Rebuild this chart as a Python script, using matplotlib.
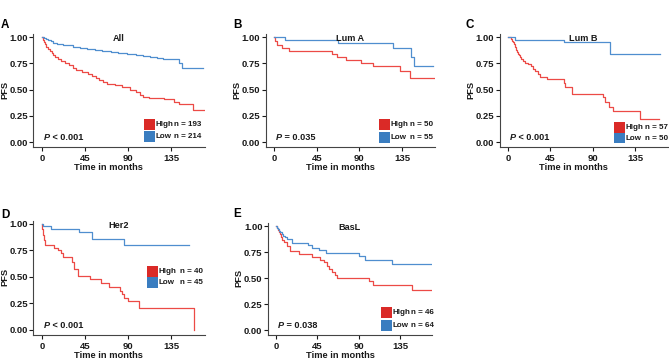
"""Kaplan-Meier PFS curves, high vs low groups, for all samples and PAM50 subtypes."""

import matplotlib

matplotlib.use("Agg")
import matplotlib.pyplot as plt
from matplotlib.patches import Rectangle

W, H = 669, 359

# step curves (months, survival)
A_high_t = [0, 1, 2, 3, 4, 6, 8, 10, 12, 14, 17, 20, 24, 28, 32, 36, 42, 48, 52, 56, 60,
            64, 68, 76, 84, 92, 98, 102, 106, 112, 128, 138, 143, 158, 170]
A_high_s = [1.00, 0.97, 0.95, 0.93, 0.91, 0.89, 0.87, 0.85, 0.83, 0.81, 0.79, 0.77, 0.75,
            0.73, 0.71, 0.69, 0.67, 0.65, 0.63, 0.61, 0.59, 0.57, 0.55, 0.54, 0.52, 0.50,
            0.48, 0.45, 0.43, 0.42, 0.41, 0.38, 0.36, 0.31, 0.31]
A_low_t = [0, 2, 4, 6, 9, 12, 16, 22, 32, 40, 47, 55, 63, 72, 80, 89, 98, 106, 113, 120,
           127, 143, 146, 168]
A_low_s = [1.00, 0.99, 0.98, 0.97, 0.96, 0.945, 0.93, 0.92, 0.91, 0.90, 0.89, 0.88, 0.87,
           0.86, 0.85, 0.84, 0.83, 0.82, 0.81, 0.80, 0.79, 0.75, 0.71, 0.71]

B_high_t = [0, 1, 3, 8, 16, 61, 66, 76, 92, 104, 133, 143, 171]
B_high_s = [1.00, 0.96, 0.92, 0.90, 0.87, 0.84, 0.81, 0.78, 0.75, 0.72, 0.68, 0.61, 0.61]
B_low_t = [0, 12, 67, 125, 144, 148, 168]
B_low_s = [1.00, 0.97, 0.945, 0.895, 0.81, 0.72, 0.72]

C_high_t = [0, 3, 4, 5, 6, 7, 8, 9, 10, 11, 12, 13, 14, 16, 18, 21, 24, 27, 29, 32, 34, 41,
            59, 61, 68, 101, 103, 107, 112, 140, 160]
C_high_s = [1.00, 0.98, 0.965, 0.95, 0.93, 0.91, 0.895, 0.88, 0.86, 0.84, 0.825, 0.81, 0.79,
            0.77, 0.755, 0.74, 0.72, 0.70, 0.68, 0.65, 0.62, 0.60, 0.56, 0.525, 0.46, 0.43,
            0.385, 0.33, 0.30, 0.215, 0.215]
C_low_t = [0, 7, 60, 108, 162]
C_low_s = [1.00, 0.975, 0.95, 0.84, 0.84]

D_high_t = [0, 0.5, 1, 2, 3, 13, 17, 20, 22, 31, 33, 38, 50, 62, 70, 82, 84, 86, 90, 101, 159]
D_high_s = [1.00, 0.95, 0.90, 0.85, 0.80, 0.775, 0.75, 0.725, 0.69, 0.64, 0.58, 0.51, 0.48,
            0.44, 0.41, 0.37, 0.34, 0.30, 0.27, 0.21, 0.0]
D_low_t = [0, 1, 9, 39, 52, 86, 154]
D_low_s = [1.00, 0.977, 0.955, 0.92, 0.86, 0.80, 0.80]

E_high_t = [0, 1, 2, 3, 4, 5, 7, 9, 12, 15, 25, 39, 48, 52, 55, 58, 61, 64, 66, 101, 105,
            148, 169]
E_high_s = [1.00, 0.98, 0.96, 0.94, 0.92, 0.89, 0.87, 0.85, 0.81, 0.76, 0.73, 0.70, 0.675,
            0.65, 0.62, 0.59, 0.56, 0.53, 0.50, 0.47, 0.435, 0.38, 0.38]
E_low_t = [0, 1, 2, 3, 4, 6, 8, 10, 12, 17, 35, 39, 47, 54, 90, 97, 126, 172]
E_low_s = [1.00, 0.985, 0.97, 0.955, 0.94, 0.92, 0.905, 0.89, 0.875, 0.84, 0.815, 0.785,
           0.765, 0.74, 0.715, 0.67, 0.63, 0.63]

letters = ["A", "B", "C", "D", "E"]
titles = ["All", "Lum A", "Lum B", "Her2", "BasL"]
p_ops = ["<", "=", "<", "<", "="]
p_vals = ["0.001", "0.035", "0.001", "0.001", "0.038"]
n_high = [193, 50, 57, 40, 46]
n_low = [214, 55, 50, 45, 64]
curves = [
    (A_high_t, A_high_s, A_low_t, A_low_s),
    (B_high_t, B_high_s, B_low_t, B_low_s),
    (C_high_t, C_high_s, C_low_t, C_low_s),
    (D_high_t, D_high_s, D_low_t, D_low_s),
    (E_high_t, E_high_s, E_low_t, E_low_s),
]
x_ticks = [0, 45, 90, 135]
y_ticks = [0.0, 0.25, 0.5, 0.75, 1.0]
y_ticklabels = ["0.00", "0.25", "0.50", "0.75", "1.00"]

# layout in pixels: axes box (l, t, r, b), legend (square left, high top, low top, n right)
boxes = [(33.4, 33.9, 204.5, 147.3), (265.5, 33.9, 435.2, 147.3), (499.5, 33.9, 668.0, 147.3),
         (33.4, 220.8, 204.5, 335.3), (267.7, 222.9, 432.4, 335.2)]
legends = [(144, 119, 131, 201), (379, 119, 132, 433), (614, 122, 133, 668),
           (147, 266, 277, 203), (381, 307, 320, 434)]
letter_xy = [(1, 28), (233, 28), (466, 28), (1, 218), (233, 217)]
XLIM, YLIM = (-9, 170), (-0.05, 1.03)

RED_LINE, BLUE_LINE = "#EC4A46", "#4F8ECF"
RED_BOX, BLUE_BOX = "#DA2A27", "#3A7DC0"
INK = "#1A1A1A"

plt.rcParams["font.family"] = ["Liberation Sans", "DejaVu Sans"]
plt.rcParams["font.weight"] = "bold"


def fx(px):
    return px / W


def fy(py):
    return 1 - py / H


def draw_panel(fig, i):
    l, t, r, b = boxes[i]
    ax = fig.add_axes([fx(l), fy(b), (r - l) / W, (b - t) / H])
    ht, hs, lt, ls = curves[i]
    ax.step(ht, hs, where="post", color=RED_LINE, lw=0.9)
    ax.step(lt, ls, where="post", color=BLUE_LINE, lw=0.9)
    ax.set_xlim(*XLIM)
    ax.set_ylim(*YLIM)
    ax.set_xticks(x_ticks)
    ax.set_yticks(y_ticks, y_ticklabels)
    for side in ("top", "right"):
        ax.spines[side].set_visible(False)
    for side in ("left", "bottom"):
        ax.spines[side].set_color("#444444")
        ax.spines[side].set_linewidth(0.8)
    ax.tick_params(axis="y", length=2.8, width=0.8, pad=1, labelsize=6.8, colors=INK)
    ax.tick_params(axis="x", length=2.8, width=0.8, pad=2.2, labelsize=6.8, colors=INK)
    for lab in ax.get_xticklabels() + ax.get_yticklabels():
        lab.set_fontweight("bold")
    ax.patch.set_alpha(0)

    ax.text(80, 0.965, titles[i], ha="center", va="baseline", fontsize=6.6,
            fontweight="bold", color=INK)
    ptxt = ax.text(2, 0.02, "P", ha="left", va="baseline", fontsize=6.6,
                   fontweight="bold", fontstyle="italic", color=INK)
    ax.annotate(f" {p_ops[i]} {p_vals[i]}", xy=(1, 0), xycoords=ptxt, ha="left",
                va="bottom", fontsize=6.6, fontweight="bold", color=INK)

    # axis titles sit off-centre in the original, so pin them in pixels
    xc = l + (r - l) * 0.44
    fig.text(fx(xc), fy(b + 20), "Time in months", ha="center", va="center",
             fontsize=6.7, fontweight="bold", color=INK)
    y_mid = t + (b - t) * (YLIM[1] - 0.5) / (YLIM[1] - YLIM[0])
    fig.text(fx(l - 28.5), fy(y_mid), "PFS", ha="center", va="center", rotation=90,
             fontsize=6.7, fontweight="bold", color=INK)

    lx, lx_top, lo_top, n_right = legends[i]
    rows = [("High", n_high[i], RED_BOX, lx_top), ("Low", n_low[i], BLUE_BOX, lo_top)]
    for name, n, col, top in rows:
        fig.add_artist(Rectangle((fx(lx), fy(top + 10.5)), 10.5 / W, 10.5 / H,
                                 transform=fig.transFigure, color=col, lw=0))
        yc = fy(top + 5.6)
        fig.text(fx(lx + 11.5), yc, name, ha="left", va="center", fontsize=5.8,
                 fontweight="bold", color=INK)
        fig.text(fx(n_right), yc, f"n = {n}", ha="right", va="center", fontsize=5.8,
                 fontweight="bold", color=INK)

    lxp, lyp = letter_xy[i]
    fig.text(fx(lxp), fy(lyp), letters[i], ha="left", va="baseline", fontsize=8.4,
             fontweight="bold", color="black")
    return ax


def main() -> None:
    fig = plt.figure(figsize=(W / 100, H / 100), dpi=100)
    fig.patch.set_facecolor("white")
    for i in range(len(letters)):
        draw_panel(fig, i)
    fig.savefig("out.png", dpi=100)


if __name__ == "__main__":
    main()
